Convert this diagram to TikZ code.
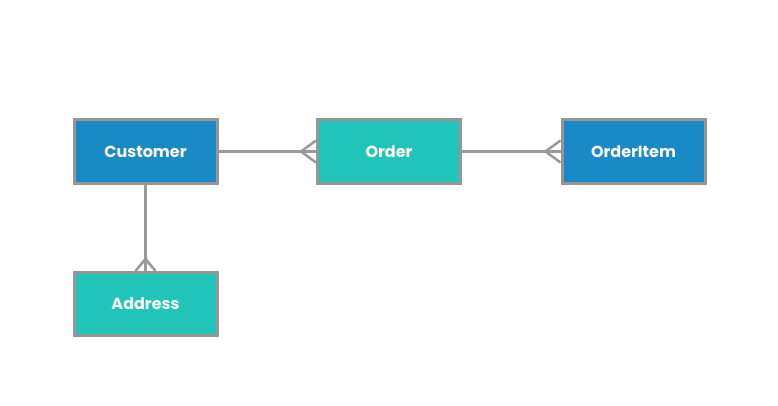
\documentclass[tikz,border=0pt]{standalone}
\usepackage{fontspec}
\setmainfont{Poppins}
\begin{document}
\begin{tikzpicture}[x=1pt,y=-1pt,
  ent/.style={draw=boxgray, line width=3pt, minimum width=143pt, minimum height=63pt, inner sep=0pt, text=white, font=\bfseries\fontsize{16}{19}\selectfont},
  blueent/.style={ent, fill=entblue},
  tealent/.style={ent, fill=entteal},
  rel/.style={draw=linegray, line width=2.5pt}]
\definecolor{boxgray}{HTML}{969696}
\definecolor{linegray}{HTML}{9A9A9A}
\definecolor{entblue}{HTML}{1A8AC6}
\definecolor{entteal}{HTML}{20C4B9}
\useasboundingbox (0,0) rectangle (778,406);
\fill[white] (0,0) rectangle (778,406);
\node[blueent] (cust) at (145.5,151.5) {Customer};
\node[tealent] (order) at (389,151.5) {Order};
\node[blueent] (item) at (633.5,151.5) {OrderItem};
\node[tealent] (addr) at (145.5,304) {Address};
% relations
\draw[rel] (cust.east) -- (order.west);
\coordinate (o1) at ([xshift=-15pt]order.west);
\draw[rel] ([yshift=-11pt]order.west) -- (o1) -- ([yshift=11pt]order.west);
\draw[rel] (order.east) -- (item.west);
\coordinate (i1) at ([xshift=-15pt]item.west);
\draw[rel] ([yshift=-11pt]item.west) -- (i1) -- ([yshift=11pt]item.west);
\draw[rel] (cust.south) -- (addr.north);
\coordinate (a1) at ([yshift=12pt]addr.north);
\draw[rel] ([xshift=-10pt]addr.north) -- (a1) -- ([xshift=10pt]addr.north);
\end{tikzpicture}
\end{document}
